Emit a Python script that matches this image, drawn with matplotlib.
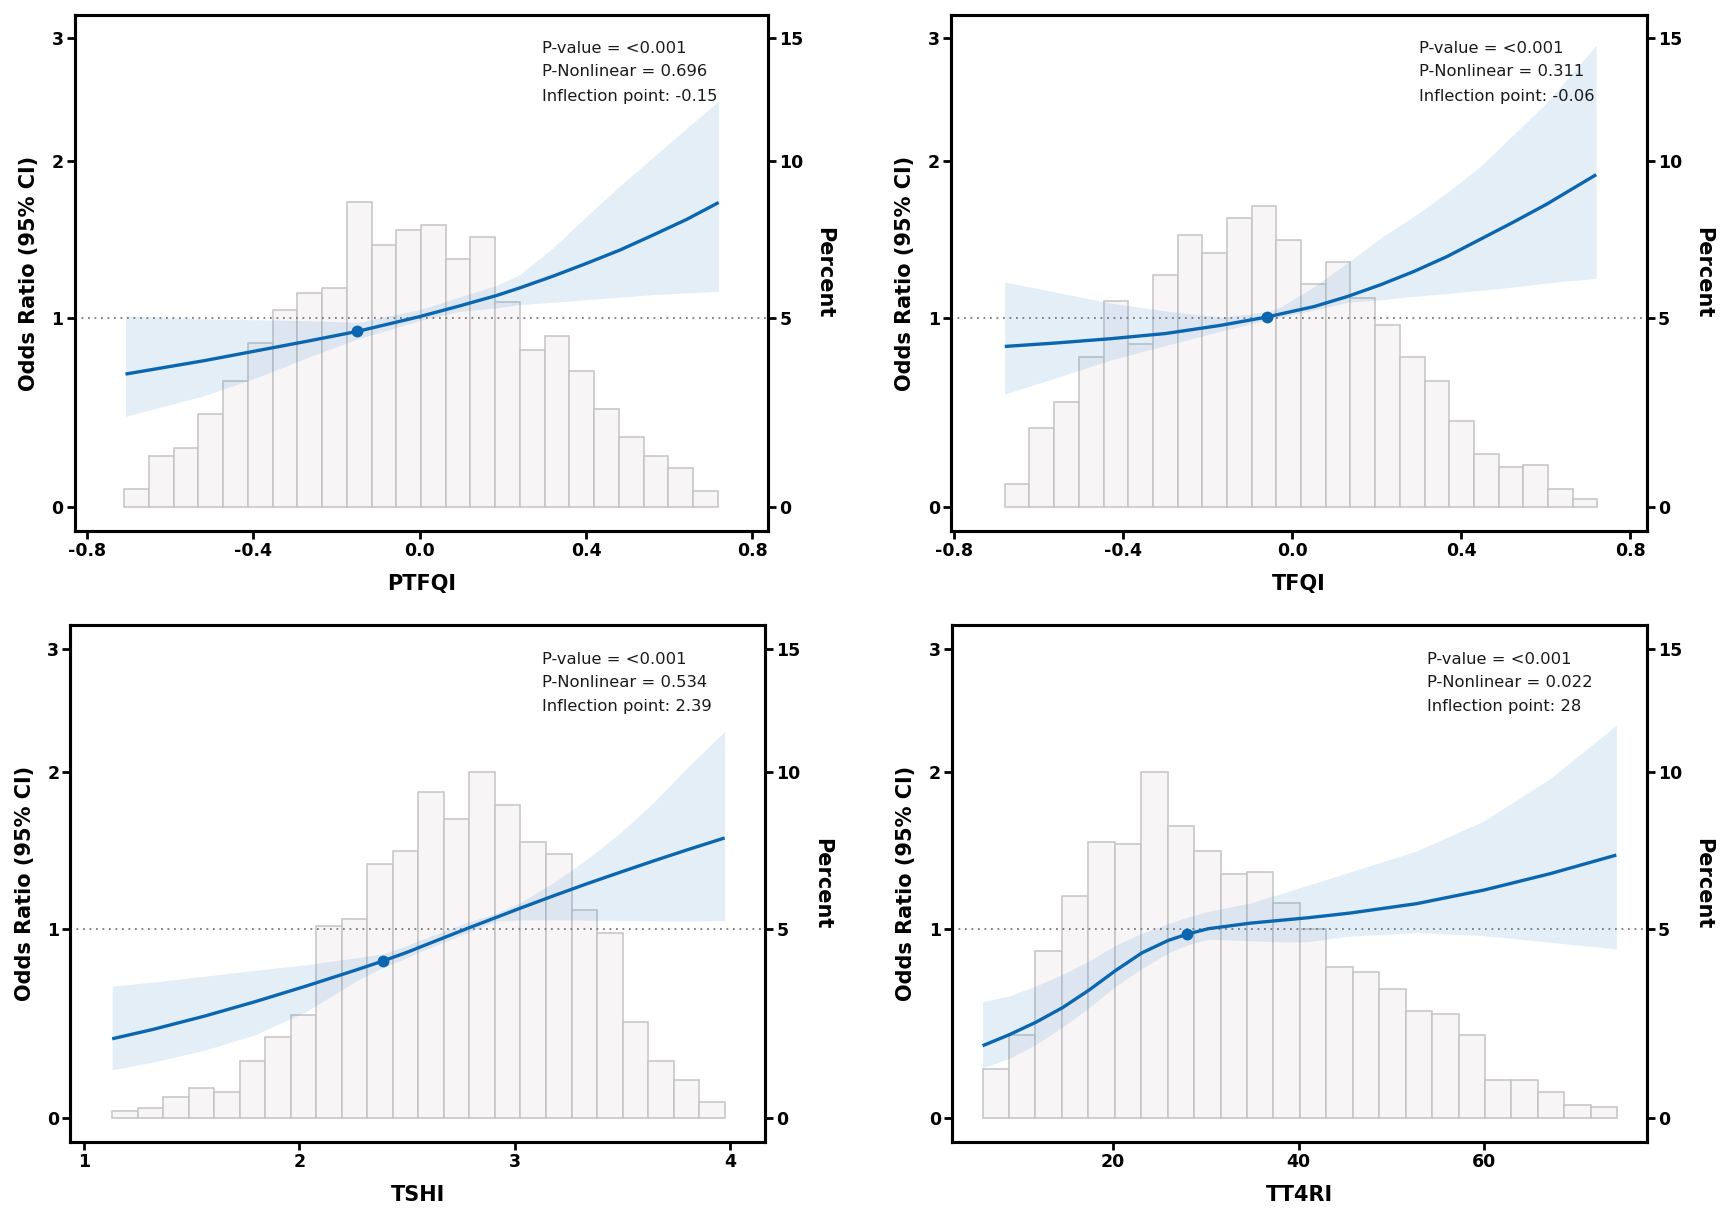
import numpy as np
import matplotlib
matplotlib.use("Agg")
import matplotlib.pyplot as plt

plt.rcParams['font.family'] = ['DejaVu Sans']
plt.rcParams['axes.unicode_minus'] = False

# ---------------- data ----------------
annot_pvalue = ["<0.001", "<0.001", "<0.001", "<0.001"]
annot_nonlin = ["0.696", "0.311", "0.534", "0.022"]
annot_inflect = ["-0.15", "-0.06", "2.39", "28"]
xlabels = ["PTFQI", "TFQI", "TSHI", "TT4RI"]

# histogram percentages (24 bins each) and bin range
ptfqi_pct = [0.46, 1.30, 1.50, 2.38, 3.27, 4.30, 5.22, 5.73, 5.86, 8.57, 7.18, 7.67,
             7.83, 6.74, 7.43, 5.46, 4.10, 4.50, 3.54, 2.51, 1.78, 1.30, 0.98, 0.40]
ptfqi_bins = (-0.711, 0.717)
tfqi_pct = [0.57, 2.02, 2.69, 3.90, 5.48, 4.26, 6.26, 7.49, 6.92, 8.06, 8.43, 7.34,
            5.98, 6.65, 5.59, 4.79, 3.90, 3.25, 2.20, 1.34, 1.02, 1.05, 0.46, 0.18]
tfqi_bins = (-0.679, 0.722)
tshi_pct = [0.16, 0.24, 0.52, 0.75, 0.64, 1.44, 2.07, 2.63, 5.09, 5.29, 6.91, 7.32,
            9.27, 8.35, 9.98, 8.82, 7.60, 7.22, 5.54, 4.89, 2.46, 1.44, 0.96, 0.39]
tshi_bins = (1.130, 3.976)
tt4ri_pct = [1.24, 2.12, 4.37, 5.94, 7.62, 7.56, 9.98, 8.12, 7.33, 6.60, 6.68, 5.73,
             5.00, 3.93, 3.79, 3.34, 2.74, 2.67, 2.12, 0.96, 0.96, 0.64, 0.32, 0.27]
tt4ri_bins = (5.95, 74.3)

# odds-ratio curves with 95% CI
ptfqi_x = [-0.708, -0.518, -0.395, -0.273, -0.148, 0.0, 0.094, 0.185, 0.241, 0.321,
           0.401, 0.482, 0.562, 0.642, 0.719]
ptfqi_or = [0.689, 0.762, 0.815, 0.868, 0.925, 1.008, 1.068, 1.130, 1.175, 1.245,
            1.322, 1.405, 1.500, 1.600, 1.712]
ptfqi_lo = [0.464, 0.574, 0.668, 0.776, 0.883, 0.985, 1.037, 1.058, 1.077, 1.090,
            1.106, 1.120, 1.135, 1.145, 1.154]
ptfqi_hi = [1.012, 0.995, 0.990, 0.985, 0.975, 1.048, 1.120, 1.190, 1.255, 1.420,
            1.620, 1.827, 2.030, 2.245, 2.459]
ptfqi_pt = (-0.15, 0.925)

tfqi_x = [-0.679, -0.559, -0.429, -0.299, -0.169, -0.058, -0.025, 0.053, 0.131, 0.210,
          0.288, 0.367, 0.445, 0.523, 0.602, 0.719]
tfqi_or = [0.840, 0.859, 0.883, 0.912, 0.958, 1.006, 1.024, 1.066, 1.124, 1.194,
           1.273, 1.365, 1.472, 1.582, 1.701, 1.904]
tfqi_lo = [0.582, 0.668, 0.765, 0.845, 0.925, 0.990, 1.005, 1.045, 1.090, 1.105,
           1.125, 1.142, 1.160, 1.180, 1.204, 1.231]
tfqi_hi = [1.210, 1.150, 1.086, 1.040, 1.005, 1.035, 1.066, 1.184, 1.325, 1.482,
           1.620, 1.780, 1.962, 2.195, 2.446, 2.936]
tfqi_pt = (-0.06, 1.006)

tshi_x = [1.130, 1.320, 1.557, 1.794, 2.032, 2.269, 2.390, 2.506, 2.560, 2.777,
          2.917, 3.025, 3.180, 3.335, 3.490, 3.645, 3.800, 3.976]
tshi_or = [0.404, 0.453, 0.522, 0.599, 0.683, 0.772, 0.820, 0.870, 0.896, 1.000,
           1.066, 1.118, 1.191, 1.263, 1.333, 1.403, 1.472, 1.549]
tshi_lo = [0.243, 0.283, 0.344, 0.425, 0.547, 0.714, 0.785, 0.840, 0.870, 0.975,
           1.045, 1.050, 1.051, 1.049, 1.047, 1.045, 1.043, 1.047]
tshi_hi = [0.683, 0.704, 0.736, 0.768, 0.799, 0.838, 0.860, 0.907, 0.935, 1.035,
           1.090, 1.150, 1.270, 1.413, 1.582, 1.783, 2.027, 2.303]
tshi_pt = (2.39, 0.820)

tt4ri_x = [5.95, 8.81, 11.67, 14.58, 17.44, 20.30, 23.10, 25.95, 27.98, 30.24,
           34.8, 38.4, 41.0, 45.5, 52.7, 59.9, 67.1, 74.2]
tt4ri_or = [0.368, 0.425, 0.490, 0.568, 0.662, 0.768, 0.864, 0.934, 0.969, 1.000,
            1.032, 1.050, 1.063, 1.090, 1.145, 1.225, 1.325, 1.440]
tt4ri_lo = [0.253, 0.303, 0.374, 0.466, 0.568, 0.683, 0.778, 0.864, 0.908, 0.940,
            0.932, 0.925, 0.927, 0.958, 0.978, 0.961, 0.923, 0.886]
tt4ri_hi = [0.599, 0.630, 0.683, 0.746, 0.821, 0.908, 0.974, 1.029, 1.066, 1.100,
            1.150, 1.210, 1.255, 1.335, 1.466, 1.659, 1.953, 2.350]
tt4ri_pt = (28, 0.969)

xticks_list = [[-0.8, -0.4, 0.0, 0.4, 0.8], [-0.8, -0.4, 0.0, 0.4, 0.8], [1, 2, 3, 4], [20, 40, 60]]
xtick_labels = [["-0.8", "-0.4", "0.0", "0.4", "0.8"], ["-0.8", "-0.4", "0.0", "0.4", "0.8"],
                ["1", "2", "3", "4"], ["20", "40", "60"]]
or_ticks = [0, 1, 2, 3]
pct_ticks = [0, 5, 10, 15]

# ---------------- style / layout ----------------
LINE_C = '#0b66b0'
BAND_C = '#3282c8'
BAR_FC = '#f7f5f6'
BAR_EC = '#c4c4c4'

panels = [
    dict(rect=[0.0433, 0.5626, 0.4017, 0.4250], xlim=(-0.830, 0.838),
         pct=ptfqi_pct, bins=ptfqi_bins, x=ptfqi_x, o=ptfqi_or, lo=ptfqi_lo, hi=ptfqi_hi, pt=ptfqi_pt, tx=0.674),
    dict(rect=[0.5510, 0.5626, 0.4032, 0.4250], xlim=(-0.806, 0.839),
         pct=tfqi_pct, bins=tfqi_bins, x=tfqi_x, o=tfqi_or, lo=tfqi_lo, hi=tfqi_hi, pt=tfqi_pt, tx=0.672),
    dict(rect=[0.0408, 0.0593, 0.4026, 0.4255], xlim=(0.936, 4.165),
         pct=tshi_pct, bins=tshi_bins, x=tshi_x, o=tshi_or, lo=tshi_lo, hi=tshi_hi, pt=tshi_pt, tx=0.678),
    dict(rect=[0.5517, 0.0593, 0.4025, 0.4255], xlim=(2.68, 77.5),
         pct=tt4ri_pct, bins=tt4ri_bins, x=tt4ri_x, o=tt4ri_or, lo=tt4ri_lo, hi=tt4ri_hi, pt=tt4ri_pt, tx=0.683),
]


def fwd(y):
    return np.arcsinh(np.asarray(y, dtype=float) / 2.0)


def inv(t):
    return 2.0 * np.sinh(np.asarray(t, dtype=float))


def fwd_p(p):
    return np.arcsinh(np.asarray(p, dtype=float) / 10.0)


def inv_p(t):
    return 10.0 * np.sinh(np.asarray(t, dtype=float))


fig = plt.figure(figsize=(17.26, 12.14), dpi=100)

for i, p in enumerate(panels):
    ax = fig.add_axes(p['rect'])
    ax2 = ax.twinx()
    ax.set_yscale('function', functions=(fwd, inv))
    ax2.set_yscale('function', functions=(fwd_p, inv_p))

    edges = np.linspace(p['bins'][0], p['bins'][1], len(p['pct']) + 1)
    ax2.bar(edges[:-1], p['pct'], width=np.diff(edges), align='edge',
            color=BAR_FC, edgecolor=BAR_EC, linewidth=1.1)

    ax.axhline(1, color='#7a7a7a', linestyle=(0, (1, 2.6)), linewidth=1.3, zorder=1)
    ax.fill_between(p['x'], p['lo'], p['hi'], color=BAND_C, alpha=0.13, linewidth=0, zorder=2)
    ax.plot(p['x'], p['o'], color=LINE_C, linewidth=2.4, zorder=3,
            solid_capstyle='butt', solid_joinstyle='round')
    ax.plot([p['pt'][0]], [p['pt'][1]], 'o', color=LINE_C, markersize=7.5, zorder=4)

    ax.set_xlim(*p['xlim'])
    ax.set_ylim(-0.125, 3.22)
    ax2.set_ylim(-0.625, 16.1)

    ax.set_zorder(ax2.get_zorder() + 1)
    ax.patch.set_visible(False)

    ax.set_xticks(xticks_list[i], xtick_labels[i], fontweight='bold')
    ax.set_yticks(or_ticks, [str(v) for v in or_ticks], fontweight='bold')
    ax2.set_yticks(pct_ticks, [str(v) for v in pct_ticks], fontweight='bold')
    ax.yaxis.set_minor_locator(matplotlib.ticker.NullLocator())
    ax2.yaxis.set_minor_locator(matplotlib.ticker.NullLocator())

    for a in (ax, ax2):
        a.tick_params(axis='both', direction='out', length=6, width=2, labelsize=12.5, pad=2,
                      colors='black')
        for s in a.spines.values():
            s.set_linewidth(2.2)
            s.set_color('black')

    ax.set_ylabel('Odds Ratio (95% CI)', fontsize=15, fontweight='bold', labelpad=9)
    ax.set_xlabel(xlabels[i], fontsize=15, fontweight='bold', labelpad=10)
    ax2.set_ylabel('Percent', fontsize=15, fontweight='bold', rotation=270, labelpad=8,
                   va='bottom')

    lines = ["P-value = " + annot_pvalue[i],
             "P-Nonlinear = " + annot_nonlin[i],
             "Inflection point: " + annot_inflect[i]]
    for ln, yy in zip(lines, [0.935, 0.890, 0.843]):
        ax.text(p['tx'], yy, ln, transform=ax.transAxes, fontsize=11.8,
                color='#1a1a1a', ha='left', va='center')

fig.savefig('out.png', dpi=100)
